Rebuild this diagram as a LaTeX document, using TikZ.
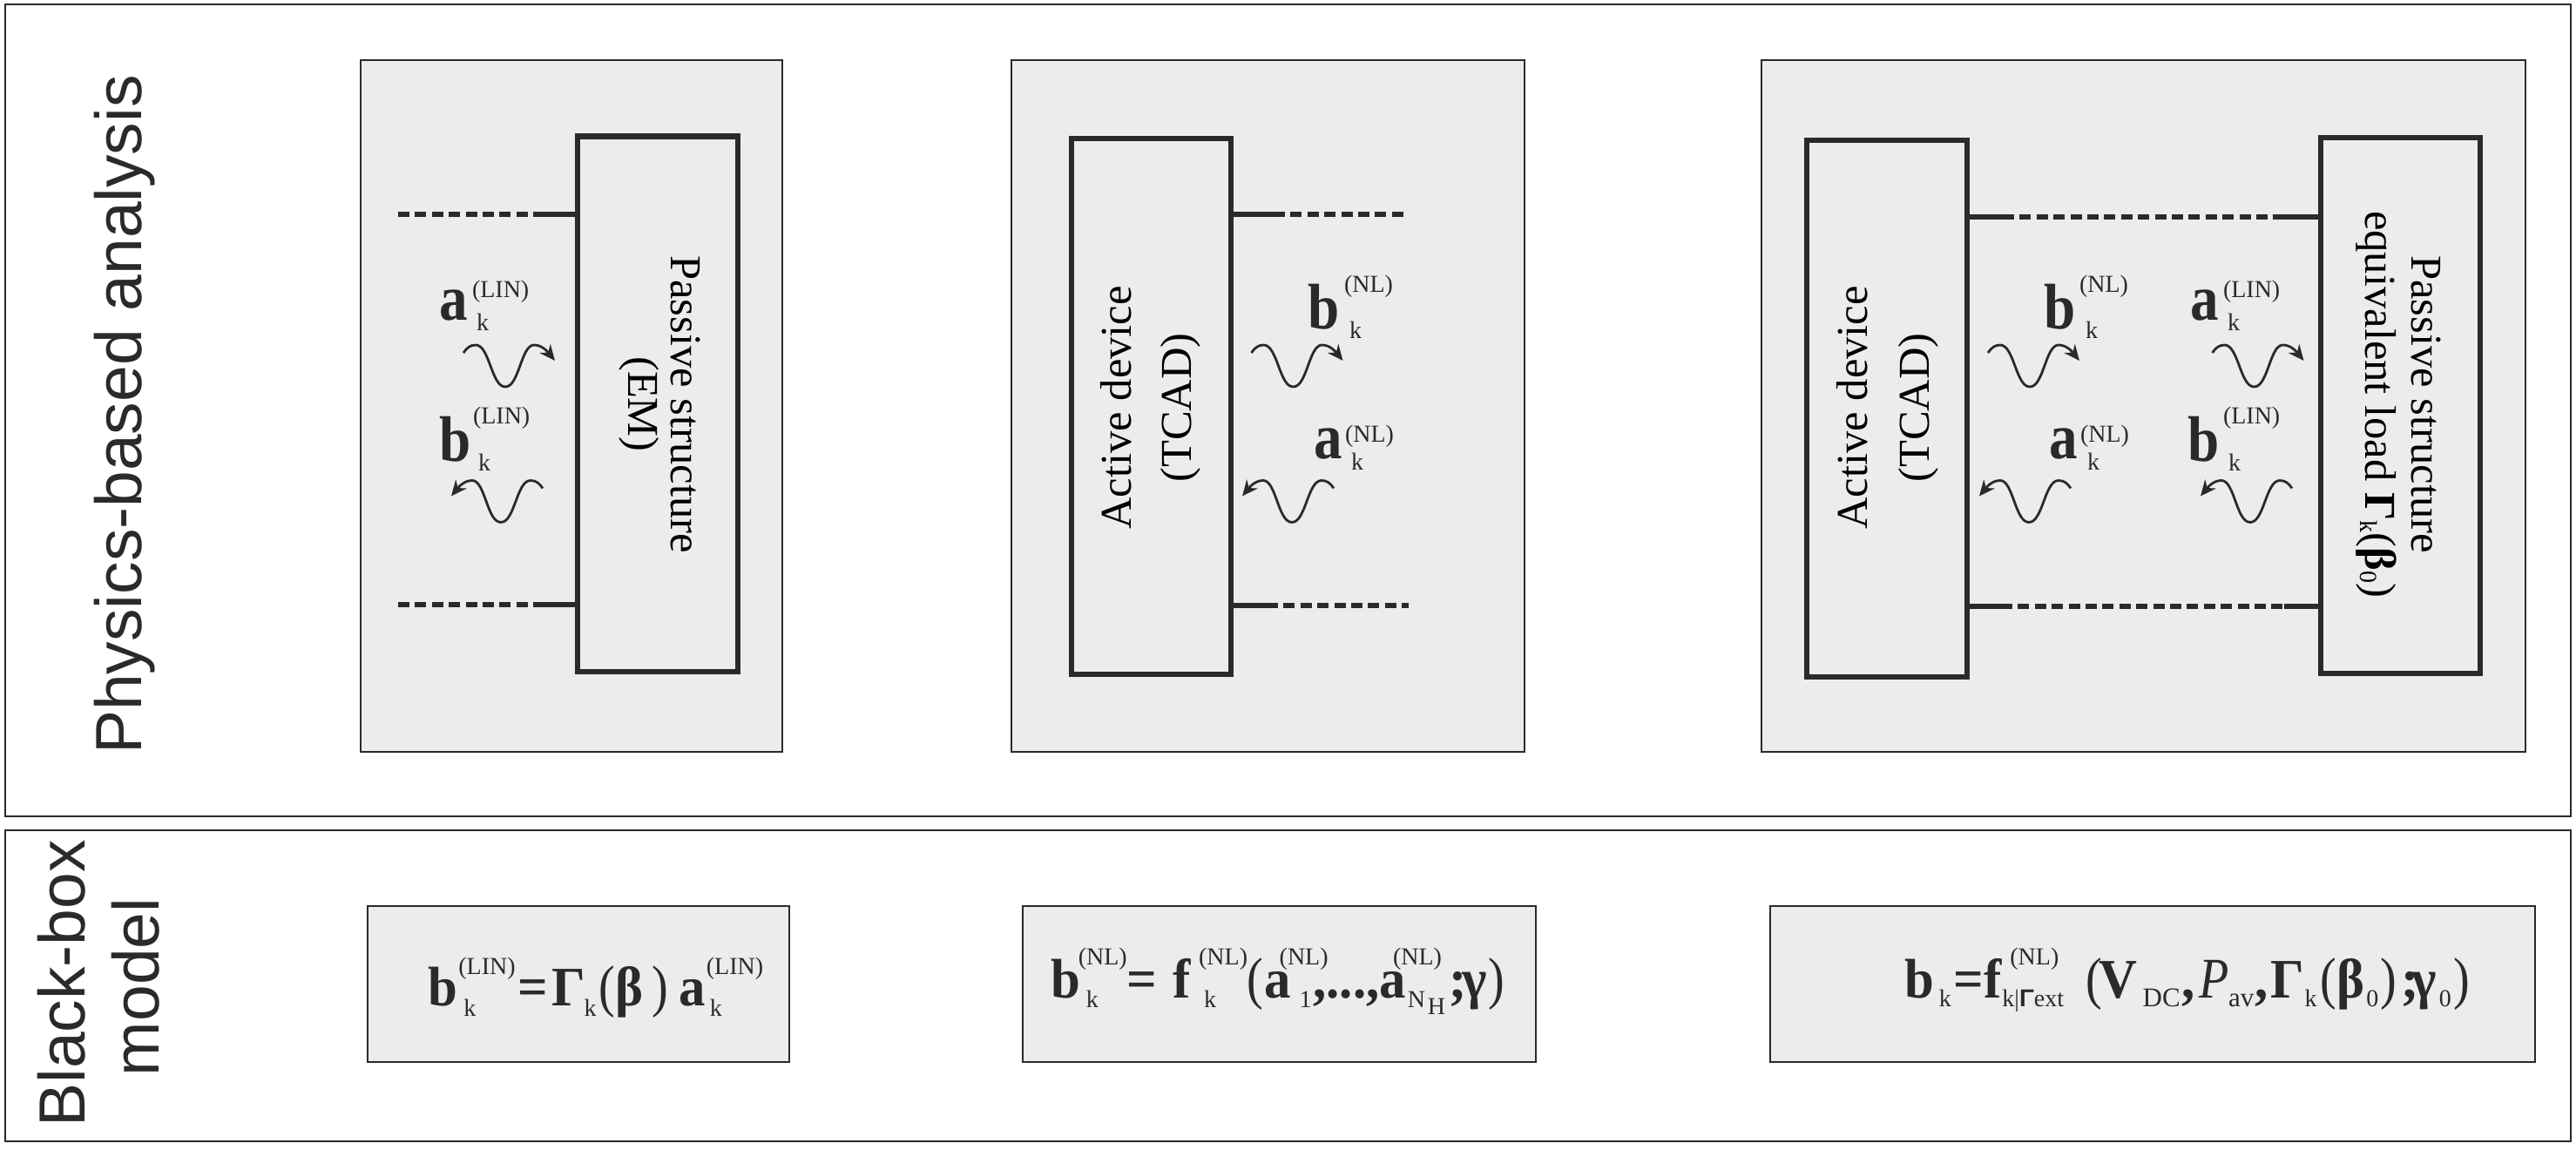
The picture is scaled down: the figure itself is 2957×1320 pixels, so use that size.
\documentclass[tikz,border=0pt]{standalone}
\usepackage{fontspec}
\setmainfont{Liberation Serif}
\newfontfamily\arialfont{Liberation Sans}
\usetikzlibrary{arrows.meta}
\definecolor{ink}{HTML}{2B2A29}
\definecolor{panelgrey}{HTML}{EBECEC}
\newdimen\ux \ux=0.5pt
% place content at an offset (in image pixels) from the start of the text line
\newcommand{\placeat}[3]{\rlap{\kern#1\ux\raisebox{#2\ux}{#3}}}
\newcommand{\wavefont}[1]{\scalebox{0.88}[1]{\fontsize{37}{40}\selectfont\bfseries #1}}
\newcommand{\eqfont}[1]{\scalebox{0.95}[1]{\fontsize{32}{36}\selectfont\bfseries #1}}
\newcommand{\eqreg}[1]{\scalebox{0.85}[1]{\fontsize{33}{37}\selectfont #1}}
\newcommand{\smallfont}[1]{{\fontsize{14}{16}\selectfont #1}}
\newcommand{\eqsub}[1]{{\fontsize{15.5}{17}\selectfont #1}}
% name, style, x1, y1, x2, y2
\newcommand{\rectnode}[6]{%
  \pgfmathsetmacro\rectw{(#5-#3)*0.5}\pgfmathsetmacro\recth{(#6-#4)*0.5}%
  \pgfmathsetmacro\rectx{(#3+#5)/2}\pgfmathsetmacro\recty{(#4+#6)/2}%
  \node[#2,minimum width=\rectw pt,minimum height=\recth pt] (#1) at (\rectx,\recty) {};}
% line label: name, x, baseline y, width, content
\newcommand{\linelabel}[5]{\node[txt,anchor=base west] (#1) at (#2,#3) {\makebox[#4\ux][l]{\color{ink}#5}};}
\tikzset{
  frame/.style={draw=ink,line width=1pt,inner sep=0pt,outer sep=0pt},
  panel/.style={draw=ink,line width=1pt,fill=panelgrey,inner sep=0pt,outer sep=0pt},
  device/.style={draw=ink,line width=3pt,inner sep=0pt,outer sep=1.5pt},
  txt/.style={inner sep=0pt,outer sep=0pt},
  uptext/.style={txt,rotate=90,anchor=base,font=\fontsize{25.3}{28}\selectfont},
  downtext/.style={txt,rotate=-90,anchor=base,font=\fontsize{25.3}{28}\selectfont},
  sidetext/.style={txt,rotate=90,anchor=base,font=\arialfont\fontsize{37.5}{40}\selectfont,text=ink},
  leadsolid/.style={draw=ink,line width=3pt},
  leaddash/.style={draw=ink,line width=3pt,dash pattern=on 6.5pt off 3.2pt},
  wavepath/.style={draw=ink,line width=1.4pt,-{Stealth[length=9pt,width=8pt]}},
  wave/.pic={\draw[wavepath] (0,0) .. controls (4,-6) and (8,-9) .. (14,-9)
     .. controls (30,-9) and (32,39) .. (48,39)
     .. controls (64,39) and (66,-9) .. (81,-9)
     .. controls (90,-9) and (96,-2) .. (105,9);}
}
\begin{document}
\begin{tikzpicture}[x=0.5pt,y=-0.5pt]
\useasboundingbox (0,0) rectangle (2957,1320);
\fill[white] (0,0) rectangle (2957,1320);

% outer frames
\rectnode{upper}{frame}{6}{5}{2951}{937}
\rectnode{lower}{frame}{6}{953}{2951}{1310}
\node[sidetext] (phys) at (162,476) {Physics-based analysis};
\node[sidetext] (black) at (97,1129) {Black-box};
\node[sidetext] (model) at (182,1133) {model};

% panels
\rectnode{panelA}{panel}{414}{69}{898}{863}
\rectnode{panelB}{panel}{1161}{69}{1750}{863}
\rectnode{panelC}{panel}{2022}{69}{2899}{863}
\rectnode{eqA}{panel}{422}{1040}{906}{1219}
\rectnode{eqB}{panel}{1174}{1040}{1763}{1219}
\rectnode{eqC}{panel}{2032}{1040}{2910}{1219}

% devices
\rectnode{passA}{device,line width=3.3pt}{663}{156.5}{847}{771}
\rectnode{actB}{device}{1229.5}{159.5}{1413}{774}
\rectnode{actC}{device}{2074}{161.5}{2258}{777}
\rectnode{passC}{device}{2664}{158.5}{2847}{773}

% panel A leads
\coordinate (aT) at (457,246); \coordinate (aTm) at (613,246);
\coordinate (aB) at (457,694); \coordinate (aBm) at (613,694);
\draw[leaddash] (aT) -- (aTm);
\draw[leadsolid] (aTm) -- (passA.west |- aTm);
\draw[leaddash] (aB) -- (aBm);
\draw[leadsolid] (aBm) -- (passA.west |- aBm);

% panel B leads
\coordinate (bT) at (1617,246); \coordinate (bTm) at (1462,246);
\coordinate (bB) at (1617,695); \coordinate (bBm) at (1454,695);
\draw[leaddash] (bTm) -- (bT);
\draw[leadsolid] (actB.east |- bTm) -- (bTm);
\draw[leaddash] (bBm) -- (bB);
\draw[leadsolid] (actB.east |- bBm) -- (bBm);

% panel C leads
\coordinate (cTl) at (2299,249); \coordinate (cTr) at (2622,249);
\coordinate (cBl) at (2297,696); \coordinate (cBr) at (2622,696);
\draw[leaddash] (cTl) -- (cTr);
\draw[leadsolid] (actC.east |- cTl) -- (cTl);
\draw[leadsolid] (cTr) -- (passC.west |- cTr);
\draw[leaddash] (cBl) -- (cBr);
\draw[leadsolid] (actC.east |- cBl) -- (cBl);
\draw[leadsolid] (cBr) -- (passC.west |- cBr);

% device texts
\node[downtext] (passAa) at (770,464) {Passive structure};
\node[downtext] (passAb) at (721,464) {(EM)};
\node[uptext] (actBa) at (1298,468) {Active device};
\node[uptext] (actBb) at (1367,468) {(TCAD)};
\node[uptext] (actCa) at (2143,468) {Active device};
\node[uptext] (actCb) at (2214,468) {(TCAD)};
\node[downtext] (passCa) at (2768,464) {Passive structure};
\node[downtext] (passCb) at (2715,464) {equivalent load \textbf{Γ}\raisebox{-3pt}{\smallfont{k}}(\textbf{β}\raisebox{-3pt}{\smallfont{0}})};

% waves
\pic at (532,405) {wave};
\pic[xscale=-1] at (623,560.5) {wave};
\pic at (1436.5,405) {wave};
\pic[xscale=-1] at (1531,560.5) {wave};
\pic at (2282,405) {wave};
\pic[xscale=-1] at (2377,560.5) {wave};
\pic at (2539.5,405) {wave};
\pic[xscale=-1] at (2631,560.5) {wave};

% wave labels
\linelabel{lblA1}{504}{368}{102}{\placeat{0}{0}{\wavefont{a}}\placeat{38}{26}{\smallfont{(LIN)}}\placeat{43}{-12}{\smallfont{k}}}
\linelabel{lblA2}{504}{530}{102}{\placeat{0}{0}{\wavefont{b}}\placeat{39}{43}{\smallfont{(LIN)}}\placeat{45}{-11}{\smallfont{k}}}
\linelabel{lblB1}{1501}{378}{97}{\placeat{0}{0}{\wavefont{b}}\placeat{42}{42}{\smallfont{(NL)}}\placeat{48}{-11}{\smallfont{k}}}
\linelabel{lblB2}{1508}{527}{90}{\placeat{0}{0}{\wavefont{a}}\placeat{36}{19}{\smallfont{(NL)}}\placeat{43}{-13}{\smallfont{k}}}
\linelabel{lblC1}{2346}{378}{97}{\placeat{0}{0}{\wavefont{b}}\placeat{41}{42}{\smallfont{(NL)}}\placeat{48}{-11}{\smallfont{k}}}
\linelabel{lblC2}{2352}{527}{91}{\placeat{0}{0}{\wavefont{a}}\placeat{36}{19}{\smallfont{(NL)}}\placeat{44}{-13}{\smallfont{k}}}
\linelabel{lblC3}{2514}{368}{102}{\placeat{0}{0}{\wavefont{a}}\placeat{38}{26}{\smallfont{(LIN)}}\placeat{43}{-12}{\smallfont{k}}}
\linelabel{lblC4}{2511}{530}{105}{\placeat{0}{0}{\wavefont{b}}\placeat{41}{43}{\smallfont{(LIN)}}\placeat{47}{-11}{\smallfont{k}}}

% equations
\linelabel{eqtA}{491.5}{1154}{388}{\ux=0.4975pt %
\placeat{0}{0}{\eqfont{b}}\placeat{41}{-13}{\smallfont{k}}\placeat{35}{36}{\smallfont{(LIN)}}%
\placeat{104}{0}{\eqfont{=}}\placeat{143}{0}{\eqfont{Γ}}\placeat{180}{-13}{\smallfont{k}}%
\placeat{197}{0}{\eqreg{(}}\placeat{216}{0}{\eqfont{β}}\placeat{258}{0}{\eqreg{)}}%
\placeat{289}{0}{\eqfont{a}}\placeat{325}{-13}{\smallfont{k}}\placeat{321}{36}{\smallfont{(LIN)}}}
\linelabel{eqtB}{1206}{1145}{524}{\ux=0.4975pt %
\placeat{0}{0}{\eqfont{b}}\placeat{41}{-12}{\smallfont{k}}\placeat{32}{38}{\smallfont{(NL)}}%
\placeat{88}{0}{\eqfont{=}}\placeat{141}{0}{\eqfont{f}}\placeat{177}{-12}{\smallfont{k}}\placeat{171}{38}{\smallfont{(NL)}}%
\placeat{227}{0}{\eqreg{(}}\placeat{247}{0}{\eqfont{a}}\placeat{287}{-12}{\smallfont{1}}\placeat{264}{38}{\smallfont{(NL)}}%
\placeat{303}{0}{\eqfont{,...,}}\placeat{379}{0}{\eqfont{a}}\placeat{395}{38}{\smallfont{(NL)}}%
\placeat{412}{-12}{\smallfont{N}}\placeat{435}{-20}{\smallfont{H}}%
\placeat{460}{0}{\eqfont{;}}\placeat{475}{0}{\eqfont{γ}}\placeat{505}{0}{\eqreg{)}}}
\linelabel{eqtC}{2186}{1145}{652}{\ux=0.4975pt %
\placeat{0}{0}{\eqfont{b}}\placeat{40}{-11}{\smallfont{k}}\placeat{57}{0}{\eqfont{=}}\placeat{92}{0}{\eqfont{f}}%
\placeat{122}{38}{\smallfont{(NL)}}\placeat{113}{-11}{\smallfont{k|\arialfont\textbf{Γ}\rmfamily ext}}%
\placeat{210}{0}{\eqreg{(}}\placeat{225}{0}{\eqfont{V}}\placeat{275}{-11}{\eqsub{DC}}\placeat{320}{0}{\eqfont{,}}%
\placeat{340}{0}{\eqreg{\itshape P}}\placeat{374}{-11}{\eqsub{av}}\placeat{405}{0}{\eqfont{,}}%
\placeat{423}{0}{\eqfont{Γ}}\placeat{462}{-11}{\smallfont{k}}\placeat{480}{0}{\eqreg{(}}\placeat{499}{0}{\eqfont{β}}%
\placeat{533}{-11}{\smallfont{0}}\placeat{549}{0}{\eqreg{)}}\placeat{573}{0}{\eqfont{;}}\placeat{585}{0}{\eqfont{γ}}%
\placeat{617}{-11}{\smallfont{0}}\placeat{634}{0}{\eqreg{)}}}
\end{tikzpicture}
\end{document}
